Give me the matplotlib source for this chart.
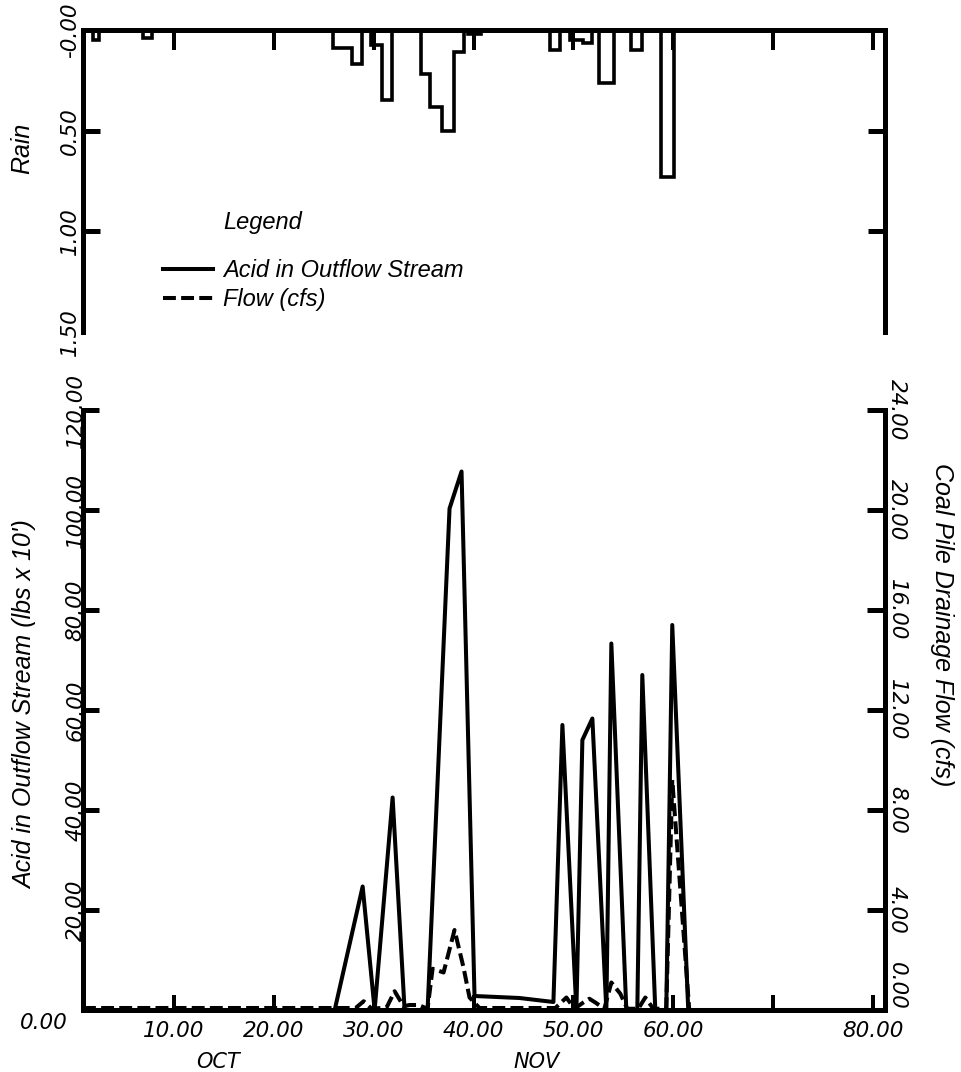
import matplotlib
matplotlib.use('Agg')
import matplotlib.pyplot as plt

plt.rcParams['font.family'] = ['Liberation Sans', 'DejaVu Sans']
plt.rcParams['font.style'] = 'italic'

# rain (inches) as steps: edges in days, one value per interval
rain_edges = [1.9, 2.5, 6.9, 7.8, 25.9, 27.8, 28.8, 29.7, 30.8, 31.8, 34.7, 35.6,
              36.8, 38.0, 39.0, 39.4, 40.7, 47.7, 48.7, 49.7, 51.0, 51.9, 52.6,
              54.1, 55.8, 56.9, 58.8, 60.1]
rain_vals = [0.05, 0, 0.04, 0, 0.09, 0.17, 0, 0.075, 0.35, 0, 0.22, 0.38,
             0.50, 0.11, 0, 0.02, 0, 0.10, 0, 0.05, 0.067, 0, 0.265,
             0, 0.10, 0, 0.73]

# acid in outflow stream
acid_day = [0.9, 26.1, 28.9, 30.1, 31.9, 33.1, 35.4, 37.6, 38.8, 40.1, 44.6,
            48.0, 48.9, 50.3, 50.9, 51.9, 53.3, 53.8, 55.3, 56.4, 56.9, 58.2,
            59.3, 59.9, 61.5, 81.2]
acid = [0, 0, 24.7, 0, 42.5, 0, 0, 100.3, 107.7, 2.8, 2.4,
        1.6, 57, 0, 54, 58.3, 0, 73.3, 0, 0, 67, 0,
        0, 77, 0, 0]

# coal pile drainage flow (cfs)
flow_day = [0.9, 26.0, 28.2, 29.0, 29.8, 31.3, 32.1, 33.0, 33.6, 34.5, 35.4,
            35.9, 37.0, 38.1, 39.0, 39.6, 40.6, 48.2, 49.3, 50.1, 51.0, 51.6,
            52.2, 53.1, 53.8, 54.7, 55.4, 56.5, 57.2, 58.0, 59.3, 59.9, 61.6]
flow = [0.08, 0.08, 0.08, 0.35, 0.05, 0.1, 0.75, 0.15, 0.2, 0.2, 0.05,
        1.65, 1.5, 3.2, 1.7, 0.5, 0.08, 0.08, 0.5, 0.05, 0.3, 0.45,
        0.3, 0.05, 1.1, 0.65, 0.05, 0.05, 0.5, 0.05, 0.05, 9.2, 0.0]

x_ticks = [10, 20, 30, 40, 50, 60, 70, 80]
x_labels = ['10.00', '20.00', '30.00', '40.00', '50.00', '60.00', '', '80.00']
rain_ticks = [0, 0.5, 1.0, 1.5]
rain_labels = ['-0.00', '0.50', '1.00', '1.50']
acid_ticks = [0, 20, 40, 60, 80, 100, 120]
flow_ticks = [0, 4, 8, 12, 16, 20, 24]
months = ['OCT', 'NOV']
month_day = [14.4, 46.3]

W, H = 961, 1072
SW = 3.6  # spine and tick width
LW = 2.9  # data line width
FS = 17
NUM = {'family': 'DejaVu Sans', 'size': 15.5}  # numbers on the axes

fig = plt.figure(figsize=(W / 100, H / 100), dpi=100)

# ---- rain panel (hanging from the top)
ax_r = fig.add_axes([83 / W, 1 - 332 / H, 802 / W, 302 / H])
ax_r.stairs(rain_vals, rain_edges, baseline=0, fill=False, color='k', lw=2.6)
ax_r.set_xlim(0.9, 81.2)
ax_r.set_ylim(1.5, 0)
ax_r.spines['bottom'].set_visible(False)
for s in ['top', 'left', 'right']:
    ax_r.spines[s].set_linewidth(SW)
ax_r.set_xticks(x_ticks)
ax_r.tick_params(axis='x', top=True, bottom=False, labelbottom=False,
                 direction='in', length=14.5, width=SW * 0.8)
ax_r.set_yticks(rain_ticks, rain_labels)
ax_r.tick_params(axis='y', left=True, right=True, direction='in', length=12,
                 width=SW, pad=2)
plt.setp(ax_r.get_yticklabels(), rotation=90, va='center', **NUM)
last = ax_r.yaxis.get_major_ticks()[-1]
last.tick1line.set_visible(False)
last.tick2line.set_visible(False)
ax_r.set_yticks([1.5], minor=True)
ax_r.tick_params(axis='y', which='minor', left=False, right=True,
                 direction='out', length=13, width=SW)

# ---- acid / flow panel
ax = fig.add_axes([83 / W, 1 - 1010 / H, 802 / W, 600 / H])
ax2 = ax.twinx()
l_acid, = ax.plot(acid_day, acid, color='k', lw=LW)
l_flow, = ax2.plot(flow_day, flow, color='k', lw=LW, dashes=(3.2, 1.3))

ax.set_xlim(0.9, 81.2)
ax.set_ylim(0, 120)
ax2.set_ylim(0, 24)

ax.spines['top'].set_visible(False)
ax.spines['right'].set_visible(False)
ax.spines['left'].set_linewidth(SW)
ax.spines['bottom'].set_linewidth(SW)
for s in ['top', 'left', 'bottom']:
    ax2.spines[s].set_visible(False)
ax2.spines['right'].set_linewidth(SW)

ax.set_xticks(x_ticks, x_labels)
ax.tick_params(axis='x', direction='in', length=11, width=SW * 0.8, pad=8)
plt.setp(ax.get_xticklabels(), **NUM)
ax.set_yticks(acid_ticks, [''] + ['%.2f' % v for v in acid_ticks[1:]])
ax.tick_params(axis='y', direction='in', length=11.5, width=SW, pad=-2)
plt.setp(ax.get_yticklabels(), rotation=90, va='center', **NUM)
ax.annotate('0.00', xy=(0, 0), xycoords='axes fraction', xytext=(-15, -3),
            textcoords='offset pixels', ha='right', va='top', **NUM)

ax2.set_yticks(flow_ticks, ['%.2f' % v for v in flow_ticks])
ax2.tick_params(axis='y', direction='in', length=13, width=SW, pad=1.5)
plt.setp(ax2.get_yticklabels(), rotation=270, va='center', **NUM)
ax2.get_yticklabels()[0].set_va('bottom')

for m, d in zip(months, month_day):
    ax.text(d, -0.087, m, transform=ax.get_xaxis_transform(),
            ha='center', va='center', family='DejaVu Sans', size=15)

# ---- legend and axis titles
ax_r.legend([l_acid, l_flow], ['Acid in Outflow Stream', 'Flow (cfs)'],
            loc='center left', bbox_to_anchor=(0.0998, 0.156), frameon=False,
            borderpad=0, borderaxespad=0, handlelength=2.1, handletextpad=0.45,
            labelspacing=0.25, prop={'size': FS, 'style': 'italic'})
ax_r.text(0.1746, 0.364, 'Legend', transform=ax_r.transAxes,
          ha='left', va='center', fontsize=FS)

fig.text(22 / W, 1 - 148 / H, 'Rain', rotation=90, ha='center', va='center', fontsize=18)
fig.text(25 / W, 1 - 705 / H, "Acid in Outflow Stream (lbs x 10')", rotation=90,
         ha='center', va='center', fontsize=18)
fig.text(942 / W, 1 - 625 / H, 'Coal Pile Drainage Flow (cfs)', rotation=270,
         ha='center', va='center', fontsize=18)

fig.savefig('out.png', dpi=100)
